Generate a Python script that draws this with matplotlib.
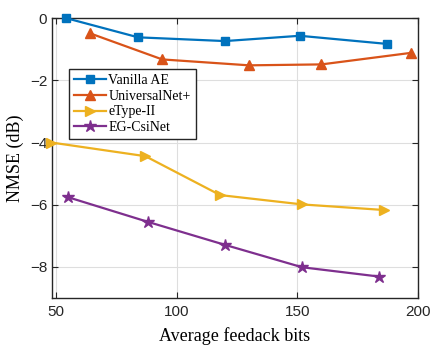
import matplotlib
matplotlib.use("Agg")
import matplotlib.pyplot as plt

# feedback bits vs NMSE for each scheme
vanilla_bits = [54, 84, 120, 151, 187]
vanilla_nmse = [0.0, -0.62, -0.74, -0.57, -0.83]

universal_bits = [64, 94, 130, 160, 197]
universal_nmse = [-0.49, -1.33, -1.52, -1.49, -1.12]

etype_bits = [48, 87, 118, 152, 186]
etype_nmse = [-4.0, -4.44, -5.69, -5.99, -6.17]

egcsi_bits = [55, 88, 120, 152, 184]
egcsi_nmse = [-5.76, -6.55, -7.29, -8.01, -8.31]

labels = ["Vanilla AE", "UniversalNet+", "eType-II", "EG-CsiNet"]
colors = ["#0072BD", "#D95319", "#EDB120", "#7E2F8E"]
markers = ["s", "^", ">", "*"]
msizes = [6, 7, 7, 9]

fig = plt.figure(figsize=(4.3, 3.47), dpi=100)
ax = fig.add_axes([0.121, 0.141, 0.851, 0.807])

series = [(vanilla_bits, vanilla_nmse), (universal_bits, universal_nmse),
          (etype_bits, etype_nmse), (egcsi_bits, egcsi_nmse)]
for (x, y), lab, c, m, ms in zip(series, labels, colors, markers, msizes):
    ax.plot(x, y, color=c, marker=m, markersize=ms, linewidth=1.6,
            label=lab, clip_on=False, zorder=3)

ax.set_xlim(48.3, 200)
ax.set_ylim(-9, 0)
ax.set_xticks([50, 100, 150, 200])
ax.set_yticks([0, -2, -4, -6, -8])
ax.grid(True, color="#dedede", linewidth=0.8)
ax.set_axisbelow(True)
ax.tick_params(direction="in", top=True, right=True, length=4,
               labelsize=11, colors="#262626")
ax.tick_params(axis="x", pad=5)
for lbl in ax.get_xticklabels() + ax.get_yticklabels():
    lbl.set_family("Liberation Sans")
for s in ax.spines.values():
    s.set_color("#262626")
    s.set_linewidth(1.0)

ax.set_xlabel("Average feedack bits", family="Liberation Serif", fontsize=13,
              labelpad=6)
ax.set_ylabel("NMSE (dB)", family="Liberation Serif", fontsize=13)

leg = ax.legend(loc="upper left", bbox_to_anchor=(0.046, 0.818),
                prop={"family": "Liberation Serif", "size": 10},
                fancybox=False, edgecolor="#262626", framealpha=1,
                borderpad=0.35, labelspacing=0.2, handlelength=2.3,
                handletextpad=0.2, borderaxespad=0)
leg.get_frame().set_linewidth(1.0)

fig.savefig("out.png", dpi=100)
